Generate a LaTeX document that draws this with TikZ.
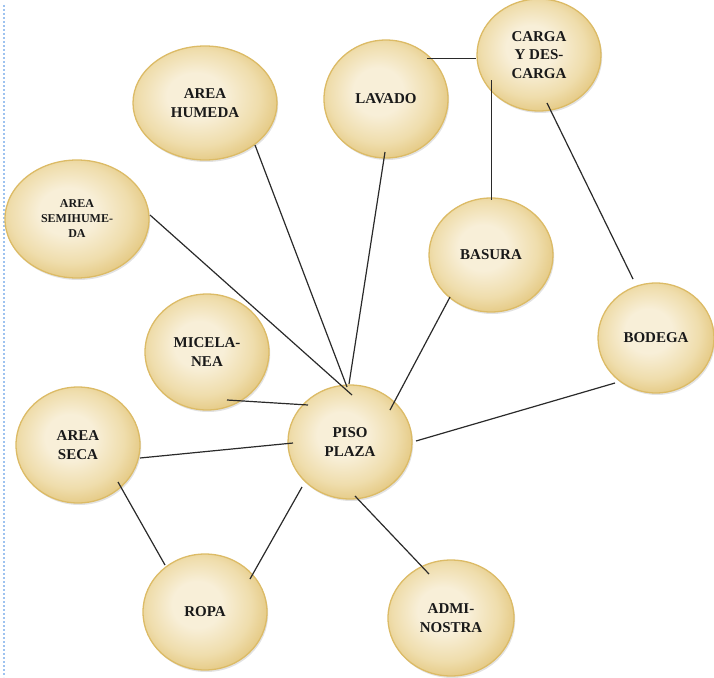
\documentclass[tikz,border=0pt]{standalone}
\usepackage{fontspec}
\setmainfont{Liberation Serif}
\usetikzlibrary{shapes.geometric,shadows}

\definecolor{bubinner}{HTML}{F8EFD8}
\definecolor{bubmid}{HTML}{EFDDAC}
\definecolor{bubouter}{HTML}{E3C67D}
\definecolor{bubedge}{HTML}{DCBB66}
\definecolor{linkcol}{HTML}{2A2A2A}
\definecolor{marginblue}{HTML}{9EC3F0}

% pale centre, golden rim
\pgfdeclareradialshading[bubinner,bubmid,bubouter]{bubshade}{\pgfpoint{-4bp}{4bp}}{%
  color(0bp)=(bubinner); color(10bp)=(bubinner); color(21bp)=(bubmid);
  color(29bp)=(bubouter); color(50bp)=(bubouter)}

\tikzset{
  bub/.style={ellipse, inner sep=0pt, align=center, draw=bubedge, line width=1.3pt,
    shading=bubshade,
    drop shadow={shadow xshift=1.2pt, shadow yshift=-2pt, fill=black!45, opacity=0.25},
    font=\fontsize{15}{18.5}\selectfont\bfseries, text=black!90},
  small/.style={font=\fontsize{12}{15}\selectfont\bfseries},
  link/.style={draw=linkcol, line width=1.2pt},
}

\begin{document}
\begin{tikzpicture}[x=1pt,y=-1pt]
\useasboundingbox (0,0) rectangle (714,677);

% page margin marker
\draw[marginblue, line width=2pt, dotted] (4,5) -- (4,677);

% bubbles
\node[bub, minimum width=144pt, minimum height=114pt] (hum)   at (205,103) {AREA\\HUMEDA};
\node[bub, minimum width=124pt, minimum height=118pt] (lav)   at (386,99)  {LAVADO};
\node[bub, minimum width=124pt, minimum height=112pt] (carga) at (539,55)  {CARGA\\Y DES-\\CARGA};
\node[bub, small, minimum width=144pt, minimum height=118pt] (semi) at (77,219) {AREA\\SEMIHUME-\\DA};
\node[bub, minimum width=124pt, minimum height=114pt] (bas)   at (491,255) {BASURA};
\node[bub, minimum width=116pt, minimum height=110pt] (bod)   at (656,338) {BODEGA};
\node[bub, minimum width=124pt, minimum height=116pt] (mic)   at (207,352) {MICELA-\\NEA};
\node[bub, minimum width=124pt, minimum height=116pt] (seca)  at (78,445)  {AREA\\SECA};
\node[bub, minimum width=124pt, minimum height=114pt] (piso)  at (350,442) {PISO\\PLAZA};
\node[bub, minimum width=124pt, minimum height=116pt] (ropa)  at (205,612) {ROPA};
\node[bub, minimum width=126pt, minimum height=116pt] (adm)   at (451,618) {ADMI-\\NOSTRA};

% connectors
\draw[link] ([shift={(50,42)}]hum.center)   -- ([shift={(-3,-55)}]piso.center);
\draw[link] ([shift={(-1,53)}]lav.center)   -- ([shift={(-1,-58)}]piso.center);
\draw[link] ([shift={(73,-4)}]semi.center)  -- ([shift={(2,-47)}]piso.center);
\draw[link] ([shift={(41,-40.5)}]lav.center)  -- ([shift={(-63,3.5)}]carga.center);
\draw[link] ([shift={(-47.5,25)}]carga.center) -- ([shift={(0.5,-55)}]bas.center);
\draw[link] ([shift={(8,48)}]carga.center)  -- ([shift={(-23,-59)}]bod.center);
\draw[link] ([shift={(-41,42)}]bas.center)  -- ([shift={(40,-32)}]piso.center);
\draw[link] ([shift={(-41,45)}]bod.center)  -- ([shift={(66,-1)}]piso.center);
\draw[link] ([shift={(20,48)}]mic.center)   -- ([shift={(-42,-37)}]piso.center);
\draw[link] ([shift={(62,13)}]seca.center)  -- ([shift={(-57,1)}]piso.center);
\draw[link] ([shift={(40,37)}]seca.center)  -- ([shift={(-40,-47)}]ropa.center);
\draw[link] ([shift={(45,-33)}]ropa.center) -- ([shift={(-48,45)}]piso.center);
\draw[link] ([shift={(5,54)}]piso.center)   -- ([shift={(-22,-44)}]adm.center);
\end{tikzpicture}
\end{document}
